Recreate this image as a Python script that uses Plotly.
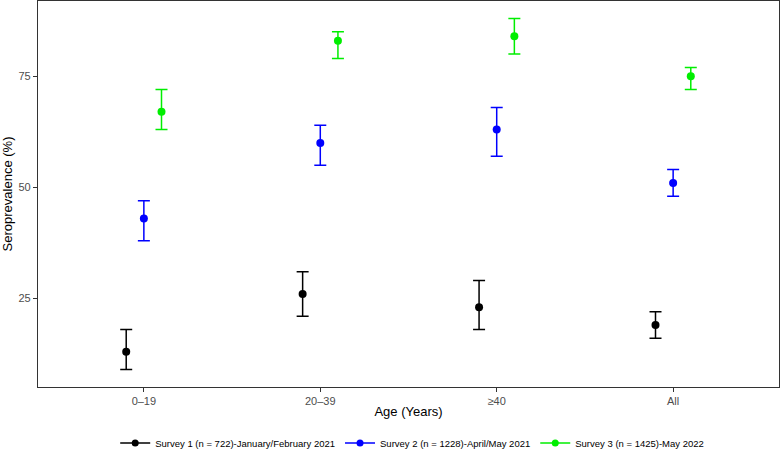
import plotly.graph_objects as go

age_groups = ["0\u201319", "20\u201339", "\u226540", "All"]
series_names = [
    "Survey 1 (n = 722)-January/February 2021",
    "Survey 2 (n = 1228)-April/May 2021",
    "Survey 3 (n = 1425)-May 2022",
]
series_colors = ["#000000", "#0000FF", "#00EE00"]

survey1 = [13, 26, 23, 19]
survey1_lo = [9, 21, 18, 16]
survey1_hi = [18, 31, 29, 22]

survey2 = [43, 60, 63, 51]
survey2_lo = [38, 55, 57, 48]
survey2_hi = [47, 64, 68, 54]

survey3 = [67, 83, 84, 75]
survey3_lo = [63, 79, 80, 72]
survey3_hi = [72, 85, 88, 77]

values = [survey1, survey2, survey3]
lows = [survey1_lo, survey2_lo, survey3_lo]
highs = [survey1_hi, survey2_hi, survey3_hi]

fig = go.Figure()
for i, (name, col, v, lo, hi) in enumerate(zip(series_names, series_colors, values, lows, highs)):
    fig.add_trace(go.Scatter(
        x=age_groups, y=v, mode="markers", name=name,
        offsetgroup=str(i), showlegend=False,
        marker=dict(color=col, size=8),
        error_y=dict(type="data", symmetric=False,
                     array=[h - m for h, m in zip(hi, v)],
                     arrayminus=[m - l for m, l in zip(v, lo)],
                     color=col, thickness=1.5, width=6),
    ))
for name, col in zip(series_names, series_colors):
    fig.add_trace(go.Scatter(
        x=[None], y=[None], mode="lines+markers", name=name,
        line=dict(color=col, width=1.5), marker=dict(color=col, size=7),
    ))

fig.update_layout(
    width=780, height=450,
    margin=dict(l=38, r=1, t=1, b=63, autoexpand=False),
    paper_bgcolor="white", plot_bgcolor="white",
    scattermode="group", scattergap=0.7,
    font=dict(family="Liberation Sans, Arial, sans-serif", color="#000000"),
    showlegend=True,
    legend=dict(orientation="h", x=0.505, xanchor="center", xref="paper",
                y=-0.145, yanchor="middle", font=dict(size=9.5),
                itemwidth=30, tracegroupgap=0),
)
fig.update_xaxes(
    type="category", range=[-0.6, 3.6], automargin=False,
    showline=True, linecolor="#333333", linewidth=1.2, mirror=True,
    ticks="outside", ticklen=4, tickcolor="#333333",
    tickfont=dict(size=11, color="#4d4d4d"),
    title=dict(text="Age (Years)", font=dict(size=13), standoff=0),
    showgrid=False, zeroline=False,
)
fig.update_yaxes(
    range=[5.05, 91.95], tickvals=[25, 50, 75], automargin=False,
    showline=True, linecolor="#333333", linewidth=1.2, mirror=True,
    ticks="outside", ticklen=4, tickcolor="#333333",
    tickfont=dict(size=11, color="#4d4d4d"),
    title=dict(text="Seroprevalence (%)", font=dict(size=13), standoff=2),
    showgrid=False, zeroline=False,
)
fig.write_html("out.html", config={"displayModeBar": False},
               post_script="document.body.style.margin='0';")
